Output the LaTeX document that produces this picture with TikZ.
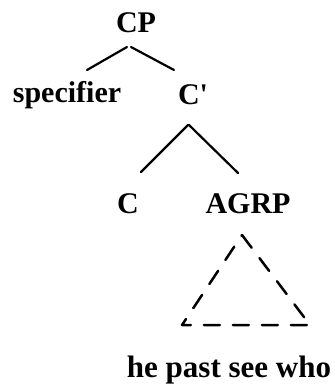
\documentclass[tikz,border=0pt]{standalone}
\usepackage{fontspec}
\setmainfont{Liberation Serif}
\usetikzlibrary{calc}

\begin{document}
\begin{tikzpicture}[x=1pt, y=-1pt, font=\fontsize{30}{34}\selectfont\bfseries,
    lbl/.style={anchor=base, inner sep=0pt},
    branch/.style={line width=2.2pt, line cap=round}]
    \useasboundingbox (0,0) rectangle (334,387);
    \node[lbl] (cp) at (136,33) {CP};
    \node[lbl] (spec) at (67,103) {specifier};
    \node[lbl] (cbar) at (193,105) {C\textquotesingle};
    \node[lbl] (c) at (128,213) {C};
    \node[lbl] (agrp) at (248,213) {AGRP};
    \node[lbl, font=\fontsize{31}{34}\selectfont\bfseries] (words) at (229,377) {he past see who};
    \draw[branch] ($(cp.base)+(-9,14)$) -- ($(spec.base)+(20,-33)$);
    \draw[branch] ($(cp.base)+(-5,14)$) -- ($(cbar.base)+(-19,-35)$);
    \draw[branch] ($(cbar.base)+(-5,20)$) -- ($(c.base)+(13,-41)$);
    \draw[branch] ($(cbar.base)+(-4,20)$) -- ($(agrp.base)+(-10,-40)$);
    % triangle over the words
    \draw[branch, line width=2.5pt, dash pattern=on 16pt off 13pt, line join=round]
      ($(agrp.base)+(-6,22)$) -- ($(agrp.base)+(62,112)$)
      -- ($(agrp.base)+(-66,112)$) -- cycle;
\end{tikzpicture}
\end{document}
